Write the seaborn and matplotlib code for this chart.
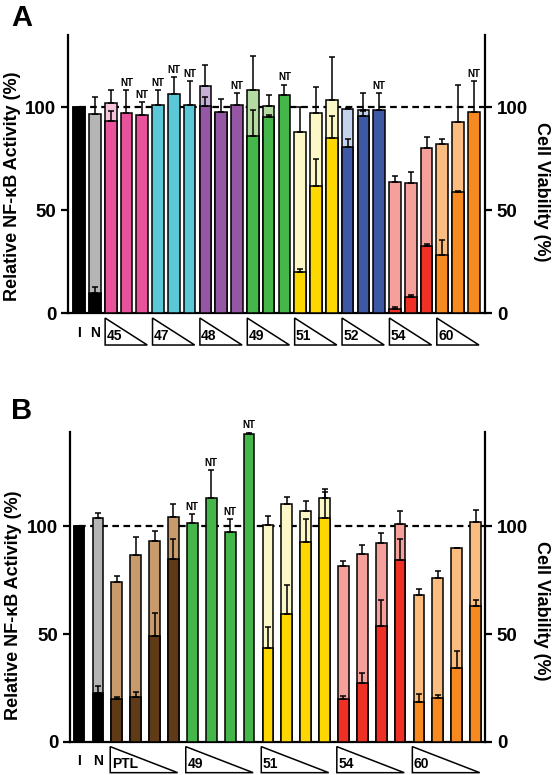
import numpy as np
import pandas as pd
import matplotlib
matplotlib.use("Agg")
import matplotlib.pyplot as plt
import seaborn as sns
from matplotlib.patches import Polygon

# ===============================
# DATA
# ===============================

# dark bar = NF-kB activity, light bar behind = cell viability (NaN = not tested)
A_groups = ["45", "47", "48", "49", "51", "52", "54", "60"]
A_nfkb = [100, 10, 93.5, 97, 96, 101, 106.5, 101, 100.5, 97.5, 101, 86, 95, 106,
          20, 61.5, 85, 80.5, 95.5, 98.7, 2, 8, 32.5, 28, 59, 97.8]
A_nfkb_sd = [0, 2.5, 4.5, 11.5, 6.5, 7.5, 8, 11.5, 4.5, 0, 6, 12.5, 1, 5,
             1.5, 13.5, 10.5, 4, 2.5, 8.3, 1, 1, 1.2, 7.7, 0.5, 15]
A_via = [100, 96.5, 102, np.nan, np.nan, np.nan, np.nan, np.nan, 110.5, 97, np.nan, 108.5, 100.5, np.nan,
         88, 97, 103.6, 99.2, 98.7, np.nan, 63.5, 63.2, 80.4, 82, 93, np.nan]
A_via_sd = [0, 8.5, 6.5, np.nan, np.nan, np.nan, np.nan, np.nan, 10, 7, np.nan, 16.5, 5.2, np.nan,
            12, 13, 21, 0.5, 8.3, np.nan, 3, 5.2, 5, 2.6, 17.6, np.nan]

B_groups = ["PTL", "49", "51", "54", "60"]
B_nfkb = [100, 22.8, 19.7, 20.9, 49.3, 84.8, 101.6, 113.2, 97.5, 143.1, 43.7,
          59.2, 92.7, 103.9, 19.7, 27.4, 53.8, 84.5, 18.6, 20.2, 34.1, 62.8]
B_nfkb_sd = [0, 3, 1.2, 2.4, 10.4, 9.5, 4.1, 12.8, 5.9, 0.8, 9.5,
             13.4, 10.7, 12, 1.5, 4.4, 11.8, 9.5, 3.6, 1.5, 8.2, 3.1]
B_via = [100, 103.9, 74.1, 86.8, 93, 104.3, np.nan, np.nan, np.nan, np.nan, 100.8,
         110.4, 107.2, 113.2, 81.4, 87.3, 92.2, 101.2, 68.2, 75.8, 89.8, 102]
B_via_sd = [0, 2.3, 2.9, 8.5, 4.7, 6.2, np.nan, np.nan, np.nan, np.nan, 3.8,
            3.4, 4.8, 4.4, 2.3, 4.2, 4.7, 5.8, 2.7, 3.3, 0.3, 5.8]

# (dark, light)
COLORS = {
    "45": ("#e8539c", "#f6c5dc"),
    "47": ("#5bc8d8", "#bfe8ef"),
    "48": ("#9656a6", "#c6b0d6"),
    "49": ("#45b649", "#b4dba2"),
    "51": ("#fdd800", "#fbf7c7"),
    "52": ("#3d59a6", "#c4d2ee"),
    "54": ("#ee3124", "#f5a09b"),
    "60": ("#f6891f", "#fbbd7f"),
    "PTL": ("#5e3a16", "#c79b6c"),
}

sns.set_style("ticks")
plt.rcParams["font.family"] = ["Liberation Sans", "DejaVu Sans"]
plt.rcParams["font.weight"] = "bold"
plt.rcParams["text.color"] = "black"
plt.rcParams["axes.labelcolor"] = "black"
plt.rcParams["axes.edgecolor"] = "black"
plt.rcParams["ytick.color"] = "black"
plt.rcParams["xtick.color"] = "black"


def build(groups, size, nfkb, nfkb_sd, via, via_sd):
    keys = ["I", "N"] + [f"{g}_{i}" for g in groups for i in range(size)]
    dark = ["#000000", "#000000"] + [COLORS[g][0] for g in groups for i in range(size)]
    light = ["#000000", "#b5b5b5"] + [COLORS[g][1] for g in groups for i in range(size)]
    return pd.DataFrame({
        "key": keys, "nfkb": nfkb, "nfkb_sd": nfkb_sd,
        "via": via, "via_sd": via_sd, "dark": dark, "light": light,
    })


def draw_panel(ax, df, groups, size, ymax, xlim, width, tri, pad_r):
    keys = list(df["key"])
    pos = np.arange(len(df))

    ax.hlines(100, 0, xlim[1], colors="black", linestyles=(0, (3, 2)), lw=1.6, zorder=1)

    # viability (light) behind
    sns.barplot(data=df.dropna(subset=["via"]), x="key", y="via", hue="key",
                order=keys, hue_order=keys, palette=dict(zip(keys, df["light"])),
                saturation=1, dodge=False, legend=False, width=width, edgecolor="black",
                linewidth=1.1, errorbar=None, zorder=2, ax=ax)
    m = df["via"].notna().values
    ax.errorbar(pos[m], df["via"][m], yerr=[np.zeros(m.sum()), df["via_sd"][m]],
                fmt="none", ecolor="black", elinewidth=1.1, capsize=2.5,
                capthick=1.1, zorder=2.5)

    # NF-kB (dark) in front
    sns.barplot(data=df, x="key", y="nfkb", hue="key",
                order=keys, hue_order=keys, palette=dict(zip(keys, df["dark"])),
                saturation=1, dodge=False, legend=False, width=width, edgecolor="black",
                linewidth=1.1, errorbar=None, zorder=3, ax=ax)
    ax.errorbar(pos, df["nfkb"], yerr=[np.zeros(len(df)), df["nfkb_sd"]],
                fmt="none", ecolor="black", elinewidth=1.1, capsize=2.5,
                capthick=1.1, zorder=3.5)

    # NT = viability not tested
    for i in pos[~m]:
        ax.annotate("NT", (i, df["nfkb"][i] + df["nfkb_sd"][i]), xytext=(0, 1.5),
                    textcoords="offset points", ha="center", va="bottom",
                    fontsize=7, fontweight="bold")

    # x-axis labels: I, N and concentration wedges
    top, bot = tri
    for i, lab in enumerate(["I", "N"]):
        ax.text(i, (top + bot) / 2 - 0.5, lab, ha="center", va="center",
                fontsize=10, fontweight="bold")
    for gi, g in enumerate(groups):
        first = 2 + gi * size
        x0 = first - 0.35
        x1 = first + size - 1 + pad_r
        ax.add_patch(Polygon([(x0, top), (x0, bot), (x1, bot)], closed=True,
                             fill=False, lw=1.1, edgecolor="black", clip_on=False))
        ax.text(x0 + 0.08, bot + 0.8, g, ha="left", va="bottom",
                fontsize=10, fontweight="bold")

    ax.set_xlim(*xlim)
    ax.set_ylim(0, ymax)
    ax.set_xticks([])
    ax.set_xlabel("")
    ax.set_yticks([0, 50, 100])
    ax.set_ylabel("Relative NF-\u03baB Activity (%)", fontsize=13, fontweight="bold", va="center")
    sns.despine(ax=ax)
    ax.spines["left"].set_linewidth(1.6)
    ax.spines["bottom"].set_linewidth(1.6)
    ax.tick_params(axis="y", labelsize=13.5, width=1.6, length=5)

    ax2 = ax.twinx()
    ax2.set_ylim(0, ymax)
    ax2.set_yticks([0, 50, 100])
    ax2.set_ylabel("Cell Viability (%)", fontsize=13, fontweight="bold",
                   rotation=-90, va="center")
    for s in ["top", "left", "bottom"]:
        ax2.spines[s].set_visible(False)
    ax2.spines["right"].set_linewidth(1.6)
    ax2.tick_params(axis="y", labelsize=13.5, width=1.6, length=5)
    for lab in ax.get_yticklabels() + ax2.get_yticklabels():
        lab.set_fontweight("bold")
    return ax2


fig = plt.figure(figsize=(5.53, 7.75), dpi=100)

# Panel A
axA = fig.add_axes([0.123, 0.596, 0.754, 0.3587])
dfA = build(A_groups, 3, A_nfkb, A_nfkb_sd, A_via, A_via_sd)
axA2 = draw_panel(axA, dfA, A_groups, 3, 135, (-0.7, 25.7), 0.74, (-2.4, -15.5), 0.32)
axA.yaxis.set_label_coords(-0.132, 0.457)
axA2.yaxis.set_label_coords(1.136, 0.436)

# Panel B
axB = fig.add_axes([0.1266, 0.043, 0.7505, 0.4])
dfB = build(B_groups, 4, B_nfkb, B_nfkb_sd, B_via, B_via_sd)
axB2 = draw_panel(axB, dfB, B_groups, 4, 144, (-0.48, 21.5), 0.57, (-2.3, -14.4), 0.22)
axB.yaxis.set_label_coords(-0.135, 0.44)
axB2.yaxis.set_label_coords(1.137, 0.423)

fig.text(22 / 553, 1 - 18 / 775, "A", ha="center", va="center", fontsize=21, fontweight="bold")
fig.text(22 / 553, 1 - 411 / 775, "B", ha="center", va="center", fontsize=21, fontweight="bold")

fig.savefig("out.png", dpi=100)
